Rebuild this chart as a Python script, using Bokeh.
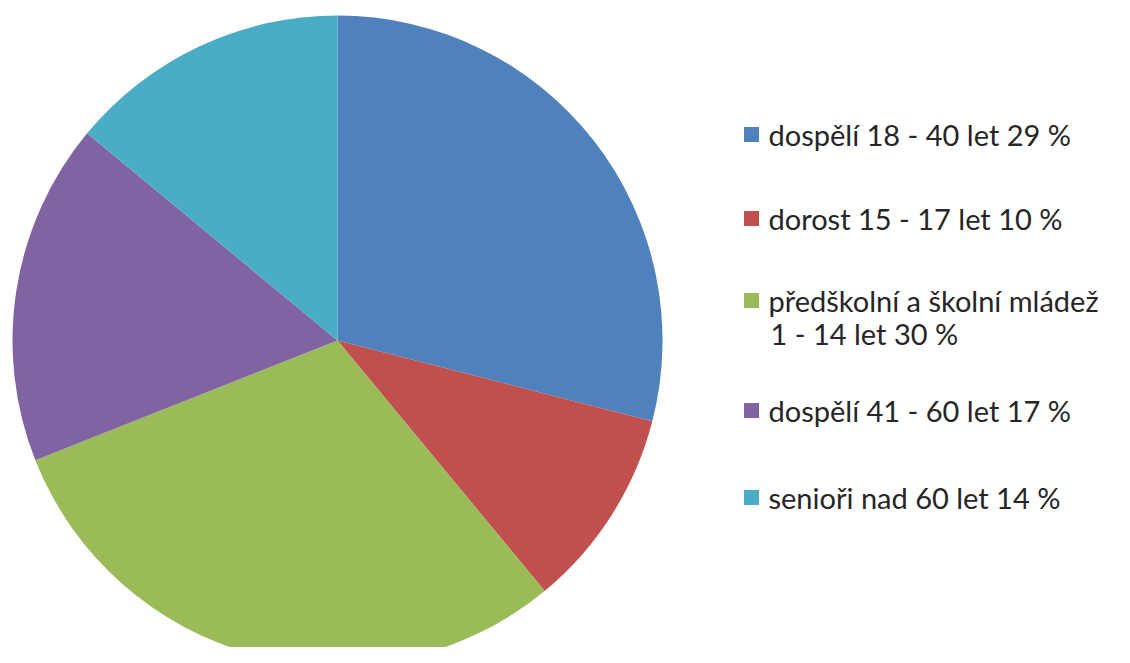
import numpy as np
from bokeh.plotting import figure
from bokeh.models import Range1d, ColumnDataSource
from bokeh.core.properties import value
from bokeh.embed import file_html
from bokeh.resources import INLINE

categories = ["dospělí 18 - 40 let", "dorost 15 - 17 let", "předškolní a školní mládež 1 - 14 let",
              "dospělí 41 - 60 let", "senioři nad 60 let"]
shares = [29, 10, 30, 17, 14]
legend_labels = [["dospělí 18 - 40 let 29 %"], ["dorost 15 - 17 let 10 %"],
                 ["předškolní a školní mládež", "1 - 14 let 30 %"],
                 ["dospělí 41 - 60 let 17 %"], ["senioři nad 60 let 14 %"]]
colors = ["#4F81BD", "#C0504D", "#9BBB59", "#8064A2", "#4BACC6"]

W, H = 1114, 647
p = figure(width=W, height=H, output_backend="svg", toolbar_location=None,
           x_range=Range1d(0, W), y_range=Range1d(0, H), min_border=0)
p.axis.visible = False
p.grid.visible = False
p.outline_line_color = None
p.background_fill_color = "white"

vals = np.array(shares, dtype=float)
frac = vals / vals.sum()
ends = np.pi / 2 - 2 * np.pi * np.cumsum(frac)
starts = np.concatenate([[np.pi / 2], ends[:-1]])
src = ColumnDataSource(dict(start=ends, end=starts, color=colors))
cx, cy, r = 337, H - 340, 325
p.wedge(x=cx, y=cy, radius=r, start_angle="start", end_angle="end",
        fill_color="color", line_color=None, source=src)

row_tops = [134, 218, 300, 410, 497]
line_h = 33
sq_x, txt_x = 751, 768
for i, lines in enumerate(legend_labels):
    y0 = H - row_tops[i]
    p.rect(x=sq_x, y=y0, width=15, height=15, fill_color=colors[i], line_color=None)
    for j, t in enumerate(lines):
        p.text(x=[txt_x + (2 if j else 0)], y=[y0 - j * line_h], text=[t],
               text_font=value("Lato"), text_font_size="29px", text_color="#262626",
               text_baseline="middle", text_align="left")

open("out.html", "w").write(file_html(p, INLINE))
